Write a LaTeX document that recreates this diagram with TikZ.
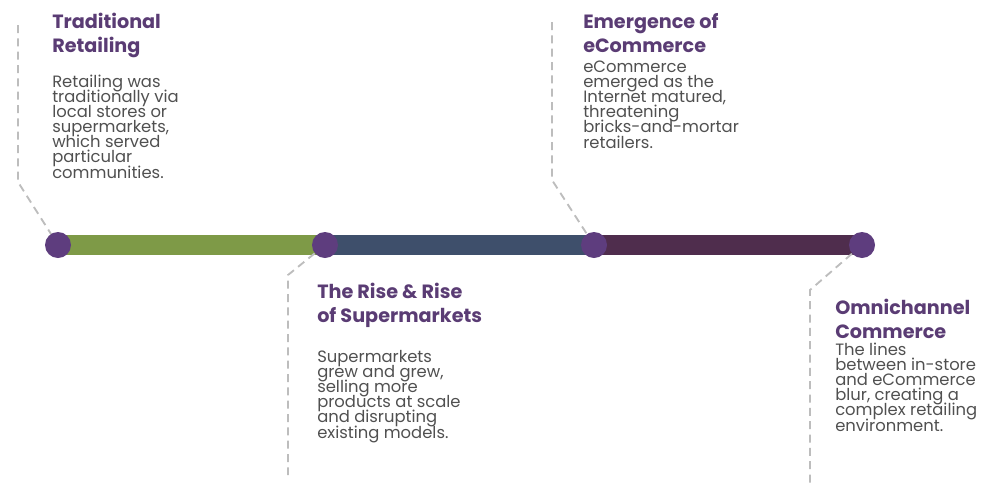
\documentclass[tikz,border=0pt]{standalone}
\usepackage{fontspec}
\setmainfont{Poppins}
\usetikzlibrary{backgrounds}
\definecolor{tlPurple}{HTML}{5E3D7E}
\definecolor{tlTitle}{HTML}{5A3C74}
\definecolor{tlGreen}{HTML}{7E9A47}
\definecolor{tlSlate}{HTML}{3E4F6B}
\definecolor{tlPlum}{HTML}{4F2D4D}
\definecolor{tlGuide}{HTML}{BDBDBD}
\definecolor{tlText}{HTML}{505050}
% tight leading for the tall Poppins lines
\newcommand\tltight{\lineskiplimit=-20pt\relax\lineskip=0pt\relax}
\tikzset{
 tl bar/.style={line width=14.5pt},
 tl dot/.style={circle,fill=tlPurple,minimum size=19.5pt,inner sep=0pt,outer sep=0pt},
 tl guide/.style={line width=1.4pt,tlGuide,dash pattern=on 6pt off 4pt},
 % anchored at the baseline of the last line
 tl title/.style={anchor=base west,inner sep=0pt,align=left,text=tlTitle,
                  font=\fontsize{14.4}{18}\selectfont\bfseries\tltight},
 tl body/.style={anchor=base west,inner sep=0pt,align=left,text=tlText,
                 font=\fontsize{12.3}{11.3}\selectfont\tltight}
}
\begin{document}
\begin{tikzpicture}[x=0.75pt,y=-0.75pt]
 \useasboundingbox (0,0) rectangle (983,483);
 % milestones on the time line
 \foreach \n/\x in {1/58,2/325,3/594,4/862}{
   \node[tl dot] (d\n) at (\x,245) {};
 }
 % ends of the dashed leader lines
 \coordinate (g1top) at (18,25);
 \coordinate (g1bend) at (18,182);
 \coordinate (g2bend) at (288,275);
 \coordinate (g2bot) at (288,475);
 \coordinate (g3top) at (552,22);
 \coordinate (g3bend) at (552,180);
 \coordinate (g4bend) at (810,290);
 \coordinate (g4bot) at (810,483);
 \begin{pgfonlayer}{background}
   \draw[tl bar,tlGreen] (d1.center) -- (d2.center);
   \draw[tl bar,tlSlate] (d2.center) -- (d3.center);
   \draw[tl bar,tlPlum] (d3.center) -- (d4.center);
   \draw[tl guide] (g1top) -- (g1bend) -- (d1.center);
   \draw[tl guide] (d2.center) -- (g2bend) -- (g2bot);
   \draw[tl guide] (g3top) -- (g3bend) -- (d3.center);
   \draw[tl guide] (d4.center) -- (g4bend) -- (g4bot);
 \end{pgfonlayer}
 % labels
 \node[tl title] (t1) at (52,52) {Traditional\\Retailing};
 \node[tl body] (b1) at (52,178) {Retailing was\\traditionally via\\local stores or\\supermarkets,\\which served\\particular\\communities.};
 \node[tl title] (t2) at (317,322) {The Rise \& Rise\\of Supermarkets};
 \node[tl body] (b2) at (317,438) {Supermarkets\\grew and grew,\\selling more\\products at scale\\and disrupting\\existing models.};
 \node[tl title] (t3) at (583,52) {Emergence of\\eCommerce};
 \node[tl body] (b3) at (583,148) {eCommerce\\emerged as the\\Internet matured,\\threatening\\bricks-and-mortar\\retailers.};
 \node[tl title] (t4) at (835,338) {Omnichannel\\Commerce};
 \node[tl body] (b4) at (835,431) {The lines\\between in-store\\and eCommerce\\blur, creating a\\complex retailing\\environment.};
\end{tikzpicture}
\end{document}
